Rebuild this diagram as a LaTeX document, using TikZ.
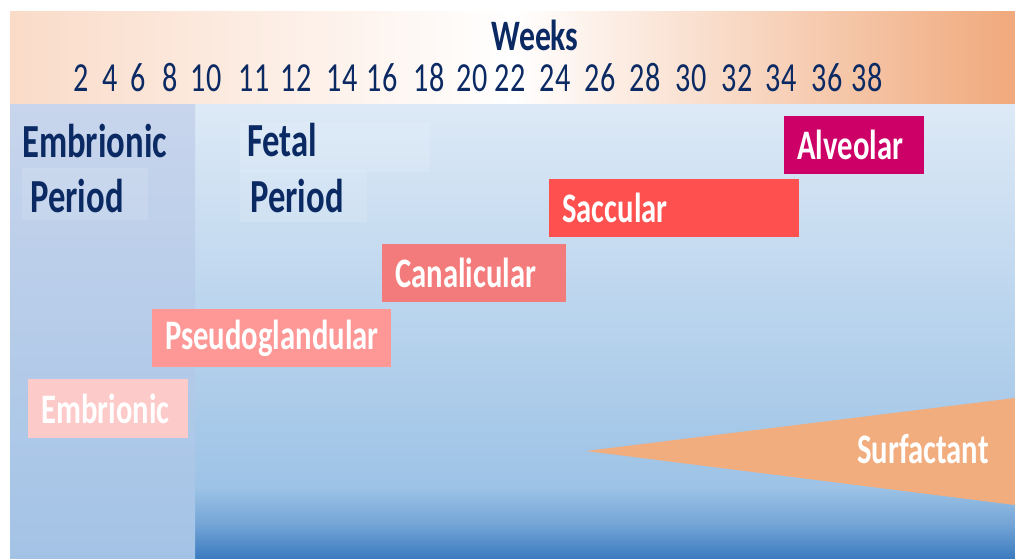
\documentclass[tikz,border=0pt]{standalone}
\usepackage{fontspec}
\setmainfont{Carlito}[FakeStretch=0.73]
\definecolor{navy}{HTML}{0B2A63}
\definecolor{alv}{HTML}{CC0066}
\definecolor{sac}{HTML}{FF5050}
\definecolor{can}{HTML}{F47B7B}
\definecolor{pse}{HTML}{FD9897}
\definecolor{emb}{HTML}{FDCACA}
\definecolor{surf}{HTML}{F2AD7F}
\definecolor{hdrL}{HTML}{FADBC8}
\definecolor{hdrR}{HTML}{F0A97C}
\definecolor{bgTop}{HTML}{DDE9F6}
\definecolor{bgMid}{HTML}{9DC3E6}
\definecolor{bgDark}{HTML}{3A7ABF}
\definecolor{colTop}{HTML}{C8D5EC}
\definecolor{colBot}{HTML}{A3C3E6}
\tikzset{
  stage/.style={fill=#1, text=white, font=\fontsize{31.5}{34}\selectfont\bfseries,
    inner xsep=10pt, inner ysep=0pt, minimum height=43.5pt, align=left, anchor=center},
  period/.style={text=navy, font=\fontsize{35.6}{38}\selectfont\bfseries, inner sep=0pt},
  week/.style={text=navy, font=\fontsize{31}{34}\selectfont, inner sep=0pt}
}
\begin{document}
\begin{tikzpicture}[x=0.75pt,y=-0.75pt]
\useasboundingbox (0,0) rectangle (1015,559);
\fill[white] (0,0) rectangle (1015,559);
% header band
\shade[left color=hdrL, right color=hdrR, middle color=white] (10,12) rectangle (1015,105);
% body
\shade[top color=bgTop, bottom color=bgMid] (195,105) rectangle (1015,487);
\shade[top color=bgMid, bottom color=bgDark, middle color=bgMid!60!bgDark] (195,487) rectangle (1015,559);
\shade[top color=colTop, bottom color=colBot] (10,105) rectangle (195,559);
% faint label panels
\fill[white, opacity=0.12] (22,168) rectangle (148,220);
\fill[white, opacity=0.12] (240,122) rectangle (430,172);
\fill[white, opacity=0.12] (240,170) rectangle (367,222);
% header text
\node[week, font=\fontsize{32.6}{36}\selectfont\bfseries] (weeks) at (535,35) {Weeks};
\foreach \n/\xx in {2/81,4/110,6/138,8/170,10/206,11/254,12/296,14/342,16/382,18/429,20/472,22/510,24/555,26/600,28/645,30/691,32/737,34/781,36/827,38/867}
  \node[week] (w\n) at (\xx,78) {\n};
% period labels
\node[period, anchor=west] (embA) at (22,141) {Embrionic};
\node[period, anchor=west] (embB) at (30,196) {Period};
\node[period, anchor=west] (fetA) at (247,140) {Fetal};
\node[period, anchor=west] (fetB) at (250,196) {Period};
% surfactant wedge
\coordinate (tip) at (586,451);
\coordinate (sTop) at (1015,398);
\coordinate (sBot) at (1015,505);
\fill[surf] (tip) -- (sTop) -- (sBot) -- cycle;
\node[text=white, font=\fontsize{31.5}{34}\selectfont\bfseries, inner sep=0pt] (surfl) at (923,449) {Surfactant};
% stages
\node[stage=alv, text width=85pt] (alveolar) at (854,145) {Alveolar};
\node[stage=sac, text width=167.5pt] (saccular) at (674,208) {Saccular};
\node[stage=can, text width=118pt] (canalicular) at (474,273) {Canalicular};
\node[stage=pse, text width=159.25pt] (pseudo) at (271.5,338) {Pseudoglandular};
\node[stage=emb, text width=100pt, minimum height=44.25pt] (embryo) at (108,408.5) {Embrionic};
\end{tikzpicture}
\end{document}
